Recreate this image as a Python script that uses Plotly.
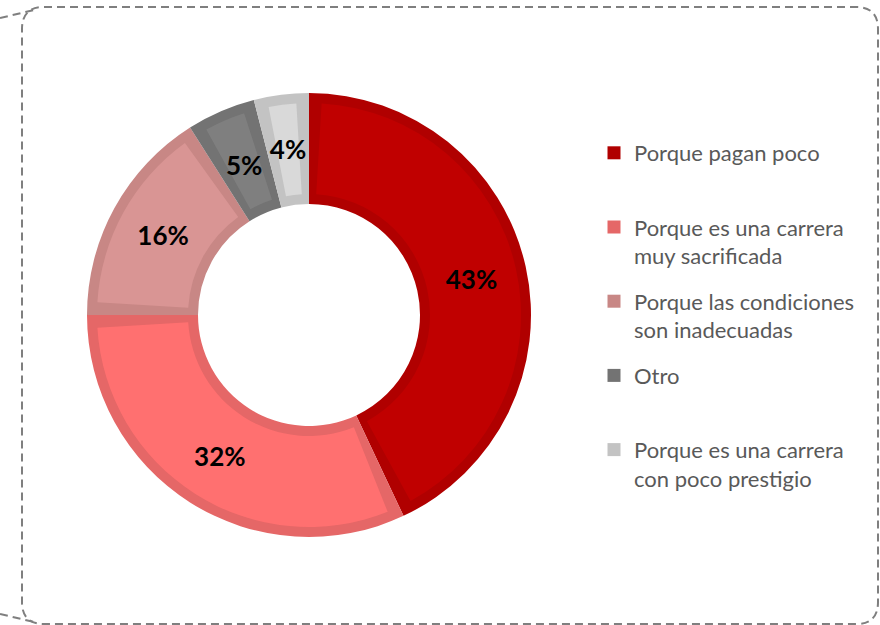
import plotly.graph_objects as go

# ---- data ----
categories = [
    "Porque pagan poco<br> ",
    "Porque es una carrera<br>muy sacrificada",
    "Porque las condiciones<br>son inadecuadas",
    "Otro<br> ",
    "Porque es una carrera<br>con poco prestigio",
]
values = [43, 32, 16, 5, 4]
pct_labels = ["43%", "32%", "16%", "5%", "4%"]

# ---- styles ----
fill_colors = ["#C00000", "#FF7070", "#D99594", "#7F7F7F", "#D9D9D9"]
edge_colors = ["#B00000", "#E56767", "#C88785", "#737373", "#C3C3C3"]
TRANSPARENT = "rgba(0,0,0,0)"
W, H = 880, 625
GAP = 0.95  # angular inset of inner fill (percent units)
CX, CY, R_OUT = 309, 315, 222


def px(x):
    return x / W


def py(y):
    return 1 - y / H


def dom(rad):
    return dict(x=[px(CX - rad), px(CX + rad)], y=[py(CY + rad), py(CY - rad)])


fig = go.Figure()

# outer ring (border colour)
fig.add_trace(go.Pie(
    labels=categories, values=values, sort=False, direction="clockwise",
    rotation=0, hole=0.5, domain=dom(R_OUT),
    marker=dict(colors=edge_colors, line=dict(width=0)),
    textinfo="none", hoverinfo="skip", showlegend=False,
))

# inner fills, inset from the edges
inner_vals, inner_cols, inner_labels = [], [], []
for i, v in enumerate(values):
    inner_vals += [GAP, v - 2 * GAP, GAP]
    inner_cols += [TRANSPARENT, fill_colors[i], TRANSPARENT]
    inner_labels += [f"g{i}a", f"f{i}", f"g{i}b"]

fig.add_trace(go.Pie(
    labels=inner_labels, values=inner_vals, sort=False, direction="clockwise",
    rotation=0, hole=121 / 212, domain=dom(R_OUT - 10),
    marker=dict(colors=inner_cols, line=dict(width=0)),
    textinfo="none", hoverinfo="skip", showlegend=False,
))

# text layers (large slices / small slices)
big_text = [t if v >= 10 else "" for t, v in zip(pct_labels, values)]
small_text = [t if v < 10 else "" for t, v in zip(pct_labels, values)]
for txt, rad, tag in [(big_text, R_OUT, "b"), (small_text, R_OUT * 0.85, "s")]:
    fig.add_trace(go.Pie(
        labels=[f"t{tag}{i}" for i in range(len(values))], values=values, sort=False,
        direction="clockwise", rotation=0, hole=0.5, domain=dom(rad),
        marker=dict(colors=[TRANSPARENT] * len(values), line=dict(width=0)),
        text=txt, textinfo="text", textposition="inside",
        insidetextorientation="horizontal",
        textfont=dict(family="Lato", size=26, color="#000000", weight="bold"),
        hoverinfo="skip", showlegend=False,
    ))

# legend entries
for i, name in enumerate(categories):
    fig.add_trace(go.Scatter(
        x=[None], y=[None], mode="markers", name=name,
        marker=dict(symbol="square", size=13, color=edge_colors[i], line=dict(width=0)),
        legendgroup=f"g{i}", showlegend=True, hoverinfo="skip",
    ))

# dashed frame
r = 22
L, R, T, B = 22, 878, 7, 624
path = (
    f"M {px(L + r)},{py(T)} L {px(R - r)},{py(T)} Q {px(R)},{py(T)} {px(R)},{py(T + r)} "
    f"L {px(R)},{py(B - r)} Q {px(R)},{py(B)} {px(R - r)},{py(B)} "
    f"L {px(L + r)},{py(B)} Q {px(L)},{py(B)} {px(L)},{py(B - r)} "
    f"L {px(L)},{py(T + r)} Q {px(L)},{py(T)} {px(L + r)},{py(T)} Z"
)
dash_line = dict(color="#7F7F7F", width=2, dash="8px,5px")
shapes = [
    dict(type="path", xref="paper", yref="paper", path=path, line=dash_line),
    dict(type="line", xref="paper", yref="paper", x0=px(0), y0=py(18), x1=px(34), y1=py(10), line=dash_line),
    dict(type="line", xref="paper", yref="paper", x0=px(0), y0=py(614), x1=px(38), y1=py(623), line=dash_line),
]

fig.update_layout(
    width=W, height=H,
    margin=dict(l=0, r=0, t=0, b=0),
    paper_bgcolor="white", plot_bgcolor="white",
    shapes=shapes,
    uniformtext=dict(minsize=26, mode="show"),
    xaxis=dict(visible=False), yaxis=dict(visible=False),
    legend=dict(
        x=px(594), y=py(132), xanchor="left", yanchor="top",
        font=dict(family="Lato", size=22, color="#595959"),
        valign="top", itemwidth=30, bgcolor="rgba(0,0,0,0)",
        tracegroupgap=14, traceorder="grouped",
    ),
    font=dict(family="Lato"),
)

fig.write_html(
    "out.html",
    config={"displayModeBar": False},
    post_script="document.body.style.margin='0';",
)
